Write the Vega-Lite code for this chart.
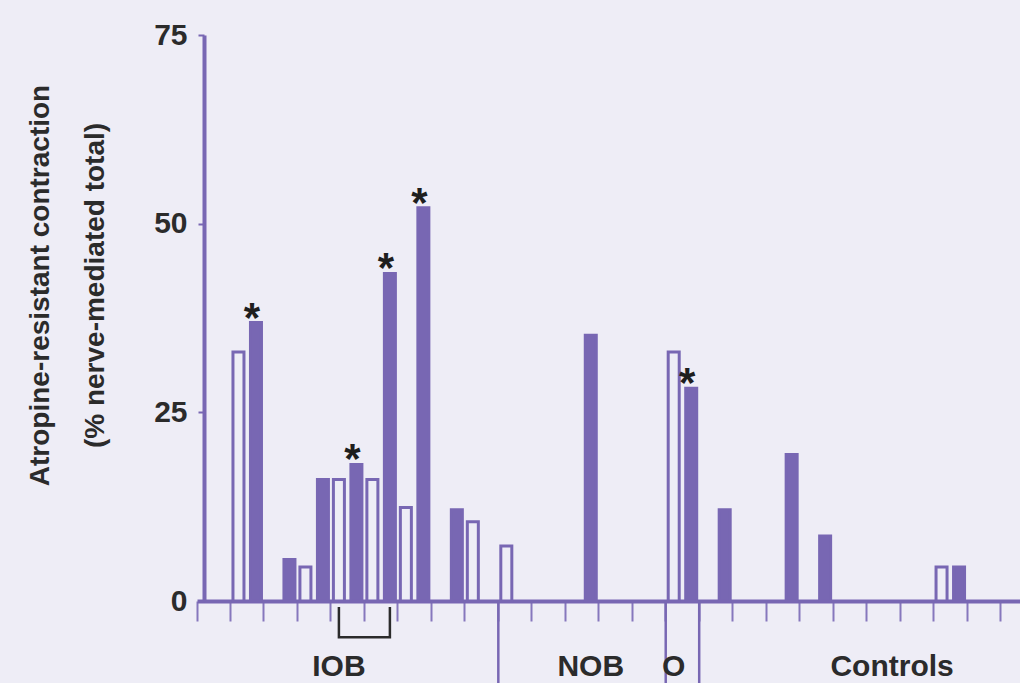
{
  "$schema": "https://vega.github.io/schema/vega-lite/v6.json",
  "width": 816,
  "height": 566,
  "autosize": {"type": "none"},
  "padding": {"left": 204, "top": 35, "right": 0, "bottom": 82},
  "background": "#EEEDF6",
  "config": {"view": {"stroke": null}, "font": "Liberation Sans"},
  "datasets": {
    "bars": [
      {"cat": 2, "series": "open", "value": 33.0, "star": false},
      {"cat": 2, "series": "filled", "value": 36.9, "star": true},
      {"cat": 3, "series": "filled", "value": 5.5, "star": false},
      {"cat": 4, "series": "open", "value": 4.5, "star": false},
      {"cat": 4, "series": "filled", "value": 16.1, "star": false},
      {"cat": 5, "series": "open", "value": 16.1, "star": false},
      {"cat": 5, "series": "filled", "value": 18.1, "star": true},
      {"cat": 6, "series": "open", "value": 16.1, "star": false},
      {"cat": 6, "series": "filled", "value": 43.4, "star": true},
      {"cat": 7, "series": "open", "value": 12.4, "star": false},
      {"cat": 7, "series": "filled", "value": 52.1, "star": true},
      {"cat": 8, "series": "filled", "value": 12.1, "star": false},
      {"cat": 9, "series": "open", "value": 10.5, "star": false},
      {"cat": 10, "series": "open", "value": 7.3, "star": false},
      {"cat": 12, "series": "filled", "value": 35.2, "star": false},
      {"cat": 15, "series": "open", "value": 33.0, "star": false},
      {"cat": 15, "series": "filled", "value": 28.2, "star": true},
      {"cat": 16, "series": "filled", "value": 12.1, "star": false},
      {"cat": 18, "series": "filled", "value": 19.4, "star": false},
      {"cat": 19, "series": "filled", "value": 8.6, "star": false},
      {"cat": 23, "series": "open", "value": 4.5, "star": false},
      {"cat": 23, "series": "filled", "value": 4.5, "star": false}
    ],
    "groups": [
      {"cat": 5, "series": "open", "label": "IOB"},
      {"cat": 12, "series": "filled", "label": "NOB"},
      {"cat": 15, "series": "open", "label": "O"},
      {"cat": 21, "series": "filled", "label": "Controls"}
    ],
    "dividers": [{"cat": 10}, {"cat": 15}, {"cat": 16}],
    "bracket": [
      {"cat": 5, "series": "open", "value": -0.8, "o": 1},
      {"cat": 5, "series": "open", "value": -4.8, "o": 2},
      {"cat": 6, "series": "filled", "value": -4.8, "o": 3},
      {"cat": 6, "series": "filled", "value": -0.8, "o": 4}
    ]
  },
  "layer": [
    {
      "data": {"name": "bars"},
      "transform": [{"filter": "datum.series === 'open'"}],
      "mark": {"type": "bar", "fill": "#EEEDF6", "stroke": "#7867B3", "strokeWidth": 3},
      "encoding": {
        "x": {
          "field": "cat", "type": "ordinal",
          "scale": {"domain": [1,2,3,4,5,6,7,8,9,10,11,12,13,14,15,16,17,18,19,20,21,22,23,24,25], "range": [-7, 830], "paddingInner": 0, "paddingOuter": 0},
          "axis": {"orient": "bottom", "labels": false, "title": null, "bandPosition": 0, "domainColor": "#7867B3", "domainWidth": 4, "tickColor": "#8677BD", "tickSize": 20, "tickWidth": 2, "grid": false}
        },
        "xOffset": {"field": "series", "type": "nominal", "scale": {"domain": ["open", "filled"], "paddingInner": 0.371, "paddingOuter": 0.142}},
        "y": {
          "field": "value", "type": "quantitative",
          "scale": {"domain": [0, 75], "nice": false},
          "axis": {
            "values": [0, 25, 50, 75],
            "domainColor": "#7867B3", "domainWidth": 4,
            "tickColor": "#7867B3", "tickSize": 6, "tickWidth": 2,
            "labelFont": "Liberation Sans", "labelFontSize": 30, "labelFontWeight": "bold", "labelColor": "#2b2b2b", "labelPadding": 11,
            "grid": false,
            "title": ["Atropine-resistant contraction", "(% nerve-mediated total)"],
            "titleFont": "Liberation Sans", "titleFontSize": 28, "titleFontWeight": "bold", "titleColor": "#2b2b2b",
            "titleLineHeight": 55, "titleAngle": -90, "titleAlign": "center", "titleBaseline": "top",
            "titleX": -178, "titleY": 250
          }
        }
      }
    },
    {
      "data": {"name": "bars"},
      "transform": [{"filter": "datum.series === 'filled'"}],
      "mark": {"type": "bar", "fill": "#7867B3", "stroke": "#7867B3", "strokeWidth": 3},
      "encoding": {
        "x": {"field": "cat", "type": "ordinal"},
        "xOffset": {"field": "series", "type": "nominal"},
        "y": {"field": "value", "type": "quantitative"}
      }
    },
    {
      "data": {"name": "bars"},
      "transform": [{"filter": "datum.star"}],
      "mark": {"type": "text", "text": "*", "fontSize": 42, "fontWeight": "bold", "font": "Liberation Sans", "fill": "#1e1e1e", "baseline": "alphabetic", "align": "center", "dy": 9, "dx": -4},
      "encoding": {
        "x": {"field": "cat", "type": "ordinal"},
        "xOffset": {"field": "series", "type": "nominal"},
        "y": {"field": "value", "type": "quantitative"}
      }
    },
    {
      "data": {"name": "dividers"},
      "mark": {"type": "rule", "stroke": "#7867B3", "strokeWidth": 2.5},
      "encoding": {
        "x": {"field": "cat", "type": "ordinal", "bandPosition": 0},
        "y": {"datum": 0, "type": "quantitative"},
        "y2": {"datum": -11.5}
      }
    },
    {
      "data": {"name": "bracket"},
      "mark": {"type": "line", "stroke": "#2b2b2b", "strokeWidth": 2.5, "strokeJoin": "miter"},
      "encoding": {
        "x": {"field": "cat", "type": "ordinal"},
        "xOffset": {"field": "series", "type": "nominal"},
        "y": {"field": "value", "type": "quantitative"},
        "order": {"field": "o", "type": "quantitative"}
      }
    },
    {
      "data": {"name": "groups"},
      "mark": {"type": "text", "fontSize": 30, "fontWeight": "bold", "font": "Liberation Sans", "fill": "#2b2b2b", "baseline": "middle", "align": "center"},
      "encoding": {
        "x": {"field": "cat", "type": "ordinal"},
        "xOffset": {"field": "series", "type": "nominal"},
        "y": {"datum": -8.75, "type": "quantitative"},
        "text": {"field": "label"}
      }
    }
  ]
}
